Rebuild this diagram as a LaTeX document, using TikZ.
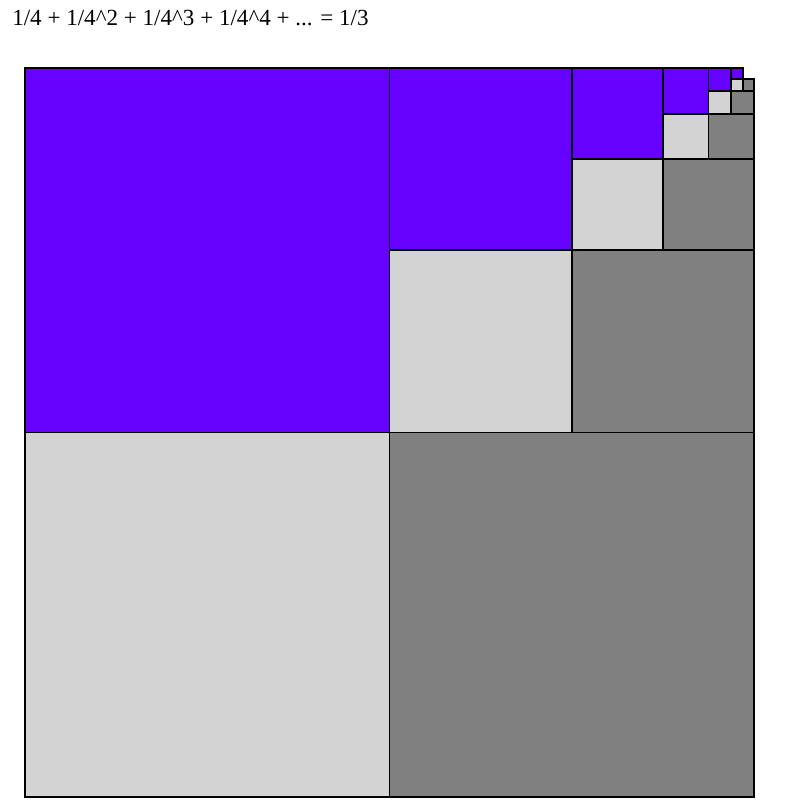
\documentclass[tikz,border=0pt]{standalone}
\usepackage{fontspec}
\setmainfont{Liberation Serif}
\definecolor{sqpurple}{HTML}{6600FF}
\definecolor{sqlight}{HTML}{D3D3D3}
\definecolor{sqdark}{HTML}{808080}
\begin{document}
\begin{tikzpicture}[x=0.75pt,y=-0.75pt,
  sq/.style={draw=black,line width=1.4pt}]
\useasboundingbox (0,0) rectangle (799,804);
\node[anchor=base west,inner sep=0pt,font=\fontsize{17.3pt}{20pt}\selectfont] (title) at (12,25) {1/4 + 1/4\^{}2 + 1/4\^{}3 + 1/4\^{}4 + ... = 1/3};
\foreach \i in {0,...,5}{
  \pgfmathsetmacro{\s}{729/(2^\i)}
  \pgfmathsetmacro{\h}{\s/2}
  \pgfmathsetmacro{\xa}{754-\s}
  \pgfmathsetmacro{\xb}{754-\h}
  \pgfmathsetmacro{\ym}{68+\h}
  \pgfmathsetmacro{\yb}{68+\s}
  \fill[sqpurple] (\xa,68) rectangle (\xb,\ym);
  \fill[sqlight] (\xa,\ym) rectangle (\xb,\yb);
  \fill[sqdark] (\xb,\ym) rectangle (754,\yb);
  \draw[sq] (\xa,68) rectangle (\xb,\ym);
  \draw[sq] (\xa,\ym) rectangle (\xb,\yb);
  \draw[sq] (\xb,\ym) rectangle (754,\yb);
}
\end{tikzpicture}
\end{document}
